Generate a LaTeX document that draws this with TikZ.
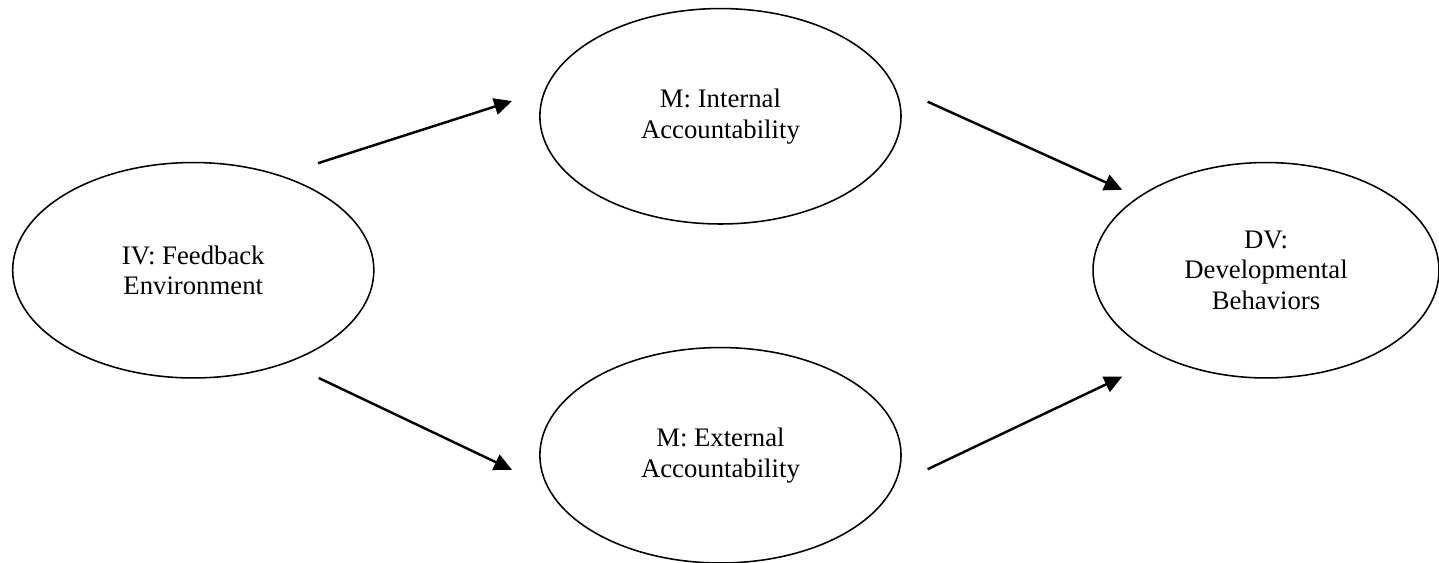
\documentclass[tikz,border=0pt]{standalone}
\usepackage{fontspec}
\setmainfont{Liberation Serif}
\usetikzlibrary{shapes.geometric,arrows.meta,positioning}

\begin{document}
\begin{tikzpicture}[
    var/.style={ellipse,draw,line width=0.7pt,inner sep=0pt,
      minimum width=5.70cm,minimum height=3.40cm,align=center,
      font=\fontsize{12}{13.8}\selectfont},
    path/.style={line width=1.1pt,-{Triangle[length=8pt,width=7.5pt]}}]
  \useasboundingbox (0,0) rectangle (22.71,8.885);
  \node[var] (iv) at (3.05,4.62) {IV: Feedback\\Environment};
  \node[var] (int) at (11.37,7.05) {M: Internal\\Accountability};
  \node[var] (ext) at (11.37,1.70) {M: External\\Accountability};
  \node[var,minimum width=5.46cm] (dv) at (19.98,4.62) {DV:\\Developmental\\Behaviors};
  % free arrow ends
  \coordinate (ivup) at (5.02,6.31);
  \coordinate (intin) at (8.08,7.29);
  \coordinate (intout) at (14.64,7.28);
  \coordinate (dvup) at (17.71,5.89);
  \coordinate (ivdn) at (5.03,2.92);
  \coordinate (extin) at (8.08,1.47);
  \coordinate (extout) at (14.64,1.48);
  \coordinate (dvdn) at (17.71,2.94);
  \draw[path] (ivup) -- (intin);
  \draw[path] (intout) -- (dvup);
  \draw[path] (ivdn) -- (extin);
  \draw[path] (extout) -- (dvdn);
\end{tikzpicture}
\end{document}
